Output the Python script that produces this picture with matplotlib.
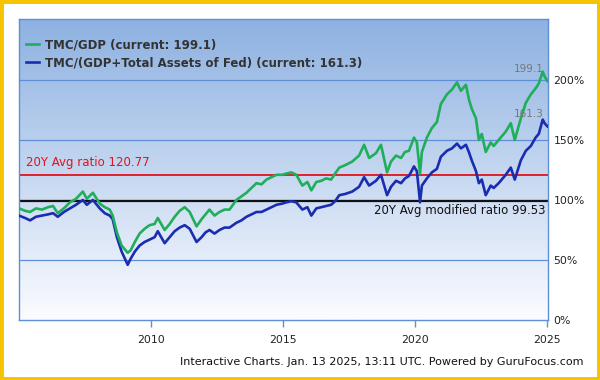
import numpy as np
import matplotlib
matplotlib.use("Agg")
import matplotlib.pyplot as plt
from matplotlib.patches import Rectangle
from matplotlib.colors import LinearSegmentedColormap

# decimal years, shared by both series
years = [2005.00, 2005.23, 2005.42, 2005.64, 2005.87, 2006.10, 2006.29, 2006.47, 2006.70, 2006.93,
         2007.16, 2007.42, 2007.57, 2007.80, 2008.06, 2008.25, 2008.44, 2008.55, 2008.71, 2008.89,
         2009.12, 2009.23, 2009.39, 2009.57, 2009.76, 2009.95, 2010.14, 2010.26, 2010.52, 2010.71,
         2010.90, 2011.09, 2011.28, 2011.47, 2011.73, 2011.92, 2012.07, 2012.22, 2012.41, 2012.60,
         2012.79, 2012.98, 2013.24, 2013.43, 2013.62, 2013.81, 2014.00, 2014.19, 2014.38, 2014.57,
         2014.76, 2014.98, 2015.13, 2015.32, 2015.51, 2015.74, 2015.93, 2016.08, 2016.27, 2016.46,
         2016.64, 2016.83, 2016.98, 2017.14, 2017.36, 2017.63, 2017.89, 2018.08, 2018.27, 2018.53,
         2018.72, 2018.95, 2019.10, 2019.29, 2019.48, 2019.63, 2019.78, 2019.97, 2020.08, 2020.20,
         2020.27, 2020.46, 2020.65, 2020.84, 2020.99, 2021.22, 2021.41, 2021.60, 2021.75, 2021.94,
         2022.05, 2022.16, 2022.32, 2022.43, 2022.54, 2022.69, 2022.88, 2022.99, 2023.18, 2023.45,
         2023.64, 2023.79, 2024.02, 2024.21, 2024.40, 2024.58, 2024.70, 2024.85, 2024.92, 2025.03]

tmc_gdp = [93, 91, 90, 93, 92, 94, 95, 89, 93, 98,
           101, 107, 101, 106, 97, 94, 92, 87, 73, 62,
           56, 58, 65, 72, 76, 79, 80, 85, 75, 80,
           86, 91, 94, 90, 78, 84, 88, 92, 87, 90,
           92, 92, 100, 103, 106, 110, 114, 113, 117, 119,
           121, 121, 122, 123, 121, 112, 115, 108, 115, 116,
           118, 117, 122, 127, 129, 132, 137, 146, 135, 139,
           146, 123, 132, 137, 135, 140, 141, 152, 148, 122,
           140, 152, 160, 165, 180, 188, 192, 198, 191, 196,
           184, 176, 168, 150, 155, 140, 148, 145, 150, 157,
           164, 150, 168, 181, 188, 193, 197, 207, 203, 199.1]

tmc_gdp_fed = [87, 85, 83, 86, 87, 88, 89, 86, 90, 93,
               96, 100, 96, 100, 93, 89, 87, 84, 69, 57,
               46, 51, 57, 62, 65, 67, 69, 74, 64, 69,
               74, 77, 79, 76, 65, 69, 73, 75, 72, 75,
               77, 77, 81, 83, 86, 88, 90, 90, 92, 94,
               96, 97, 98, 99, 98, 92, 94, 87, 93, 94,
               95, 96, 99, 104, 105, 107, 111, 119, 112, 116,
               121, 104, 111, 116, 114, 118, 120, 128, 124, 98,
               112, 118, 123, 126, 136, 141, 143, 147, 143, 146,
               140, 133, 124, 114, 117, 104, 112, 110, 114, 121,
               127, 117, 133, 141, 145, 152, 155, 167, 164, 161.3]

avg_ratio = 120.77
avg_modified = 99.53
y_ticks = [0, 50, 100, 150, 200]
x_ticks = [2010, 2015, 2020, 2025]

GREEN = "#1fae5a"
BLUE = "#1a2db0"
GRID = "#5f8fd6"

fig = plt.figure(figsize=(6, 3.8), dpi=100)
ax = fig.add_axes([19 / 600, 60 / 380, 529 / 600, 301 / 380])

# gradient background
cmap = LinearSegmentedColormap.from_list("bg", ["#fbfcff", "#8db1e1"])
grad = np.linspace(0, 1, 256).reshape(-1, 1)
ax.imshow(grad, aspect="auto", cmap=cmap, origin="lower",
          extent=[0, 1, 0, 1], transform=ax.transAxes, zorder=0)

ax.set_xlim(2005.0, 2025.05)
ax.set_ylim(0, 250.8)

for v in y_ticks[1:]:
    ax.axhline(v, color=GRID, lw=0.9, zorder=1)

ax.axhline(avg_ratio, color="#e3121c", lw=1.3, zorder=2)
ax.axhline(avg_modified, color="#111111", lw=1.6, zorder=2)

ax.plot(years, tmc_gdp, color=GREEN, lw=1.9, zorder=4,
        label="TMC/GDP (current: %.1f)" % tmc_gdp[-1])
ax.plot(years, tmc_gdp_fed, color=BLUE, lw=1.9, zorder=3,
        label="TMC/(GDP+Total Assets of Fed) (current: %.1f)" % tmc_gdp_fed[-1])

ax.text(2005.25, avg_ratio + 5, "20Y Avg ratio %.2f" % avg_ratio, color="#e3121c",
        fontsize=8.5, va="bottom", ha="left", zorder=5)
ax.text(2024.95, avg_modified - 3, "20Y Avg modified ratio %.2f" % avg_modified, color="#111111",
        fontsize=8.5, va="top", ha="right", zorder=5)

ax.text(2024.9, tmc_gdp[-1] + 10, "%.1f" % tmc_gdp[-1], color="#777777",
        fontsize=7.5, ha="right", va="center", zorder=5)
ax.text(2024.9, tmc_gdp_fed[-1] + 10, "%.1f" % tmc_gdp_fed[-1], color="#777777",
        fontsize=7.5, ha="right", va="center", zorder=5)

ax.yaxis.tick_right()
ax.set_yticks(y_ticks)
ax.set_yticklabels(["%d%%" % v for v in y_ticks])
ax.tick_params(axis="y", length=0, pad=4, labelsize=7.8, colors="#222222")
ax.set_xticks(x_ticks)
ax.set_xticklabels([str(v) for v in x_ticks])
ax.tick_params(axis="x", length=5, width=1, color=GRID, pad=6, labelsize=7.8, labelcolor="#222222")

for s in ax.spines.values():
    s.set_color(GRID)
    s.set_linewidth(1)

leg = ax.legend(loc="upper left", bbox_to_anchor=(0.0, 0.96), frameon=False,
                handlelength=1.1, handletextpad=0.5, labelspacing=0.45,
                prop={"size": 8.5, "weight": "bold"}, borderaxespad=0.2)
for t in leg.get_texts():
    t.set_color("#333333")

fig.text(583 / 600, 1 - 362 / 380,
         "Interactive Charts. Jan. 13 2025, 13:11 UTC. Powered by GuruFocus.com",
         ha="right", va="center", fontsize=8, color="#111111")

fig.patches.append(Rectangle((0, 0), 1, 1, transform=fig.transFigure, fill=False,
                             edgecolor="#f7c300", linewidth=5, zorder=10))

fig.savefig("out.png", dpi=100)
